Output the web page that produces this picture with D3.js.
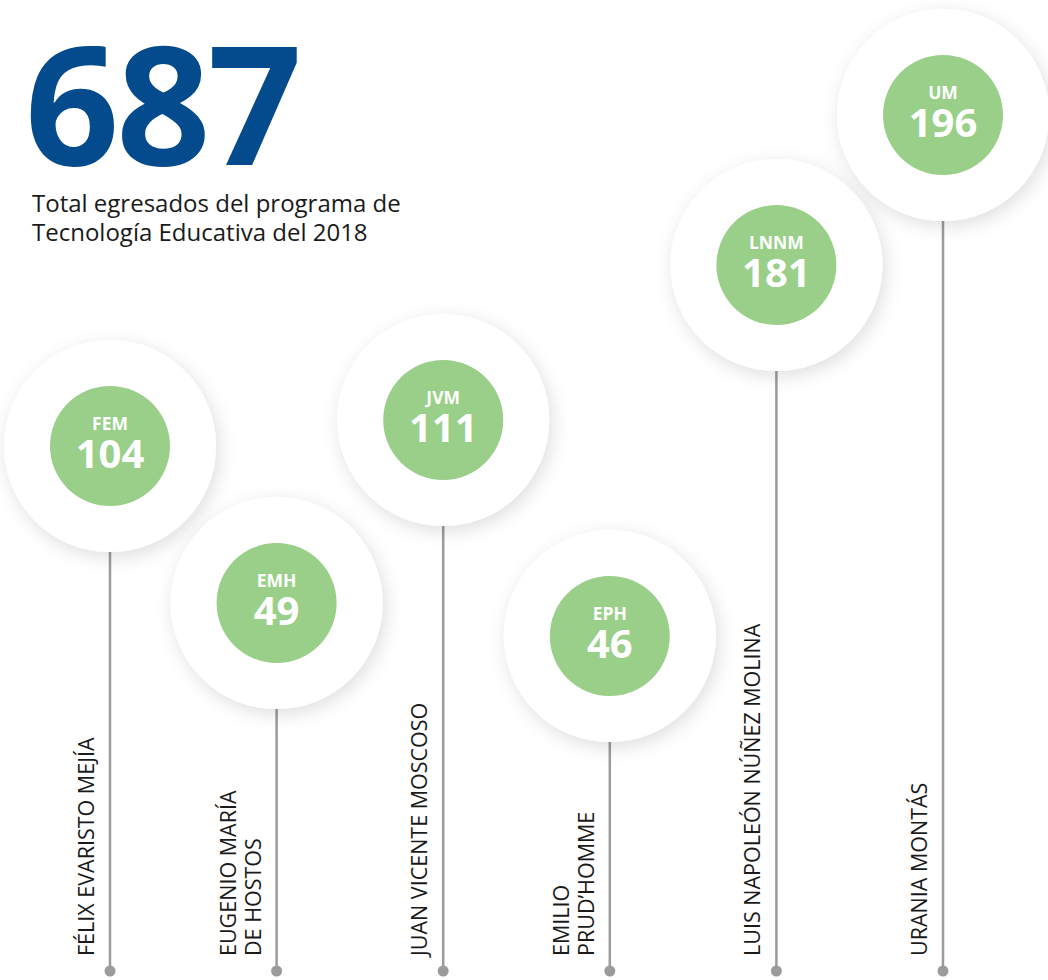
<!DOCTYPE html>
<html>
<head>
<meta charset="utf-8">
<script src="https://cdn.jsdelivr.net/npm/d3@7"></script>
<style>
  body { margin: 0; background: #fff; }
  svg { display: block; font-family: "Open Sans", sans-serif; }
</style>
</head>
<body>
<div id="chart"></div>
<script>
// data
const siglas = ["FEM", "EMH", "JVM", "EPH", "LNNM", "UM"];
const egresados = [104, 49, 111, 46, 181, 196];
const nombres = [
  ["FÉLIX EVARISTO MEJÍA"],
  ["EUGENIO MARÍA", "DE HOSTOS"],
  ["JUAN VICENTE MOSCOSO"],
  ["EMILIO", "PRUD’HOMME"],
  ["LUIS NAPOLEÓN NÚÑEZ MOLINA"],
  ["URANIA MONTÁS"]
];
const subtitulo = ["Total egresados del programa de", "Tecnología Educativa del 2018"];

const width = 1048, height = 980;
const rOuter = 106, rInner = 60;
const baseY = 971;

const data = siglas.map((s, i) => ({sigla: s, valor: egresados[i], nombre: nombres[i]}));

const svg = d3.select("#chart").append("svg")
    .attr("width", width)
    .attr("height", height);

const defs = svg.append("defs");
defs.append("filter")
    .attr("id", "sombra")
    .attr("x", "-30%").attr("y", "-30%")
    .attr("width", "160%").attr("height", "160%")
  .append("feDropShadow")
    .attr("dx", 3).attr("dy", 5)
    .attr("stdDeviation", 9)
    .attr("flood-color", "#000")
    .attr("flood-opacity", 0.13);

// x: one column per centre, y: designer's stepped layout keyed on the value
const x = d3.scalePoint().domain(siglas).range([110, 943]);
const y = d3.scaleLinear()
    .domain(d3.sort(egresados))
    .range([636, 603, 446, 420, 265, 115]);

// headline total
svg.append("text")
    .attr("x", 25)
    .attr("y", 165)
    .attr("fill", "#034b8c")
    .attr("font-size", 165)
    .attr("font-weight", 700)
    .attr("letter-spacing", -3)
    .text(d3.sum(egresados));

svg.append("g")
    .attr("fill", "#1a1a1a")
    .attr("font-size", 24)
  .selectAll("text")
  .data(subtitulo)
  .join("text")
    .attr("x", 32)
    .attr("y", (d, i) => 212 + i * 29)
    .text(d => d);

const item = svg.append("g")
  .selectAll("g")
  .data(data)
  .join("g")
    .attr("transform", d => `translate(${x(d.sigla)},0)`);

// stems
item.append("line")
    .attr("x1", 0).attr("x2", 0)
    .attr("y1", d => y(d.valor) + rOuter)
    .attr("y2", baseY)
    .attr("stroke", "#9b9b9b")
    .attr("stroke-width", 2.5);

item.append("circle")
    .attr("cy", baseY)
    .attr("r", 5.5)
    .attr("fill", "#9b9b9b");

// names, rotated
item.append("g")
    .attr("transform", `translate(-16,${baseY - 15}) rotate(-90)`)
  .selectAll("text")
  .data(d => d.nombre.map((t, j) => ({t, off: (d.nombre.length - 1 - j) * 25})))
  .join("text")
    .attr("x", 0)
    .attr("y", d => -d.off)
    .attr("font-size", 21.5)
    .attr("fill", "#1a1a1a")
    .text(d => d.t);

// bubbles
const burbuja = item.append("g")
    .attr("transform", d => `translate(0,${y(d.valor)})`);

burbuja.append("circle")
    .attr("r", rOuter)
    .attr("fill", "#fff")
    .attr("filter", "url(#sombra)");

burbuja.append("circle")
    .attr("r", rInner)
    .attr("fill", "#99cf88");

burbuja.append("text")
    .attr("text-anchor", "middle")
    .attr("y", -16)
    .attr("fill", "#fff")
    .attr("font-size", 17.5)
    .attr("font-weight", 700)
    .text(d => d.sigla);

burbuja.append("text")
    .attr("text-anchor", "middle")
    .attr("y", 21.5)
    .attr("fill", "#fff")
    .attr("font-size", 40)
    .attr("font-weight", 700)
    .text(d => d.valor);
</script>
</body>
</html>
